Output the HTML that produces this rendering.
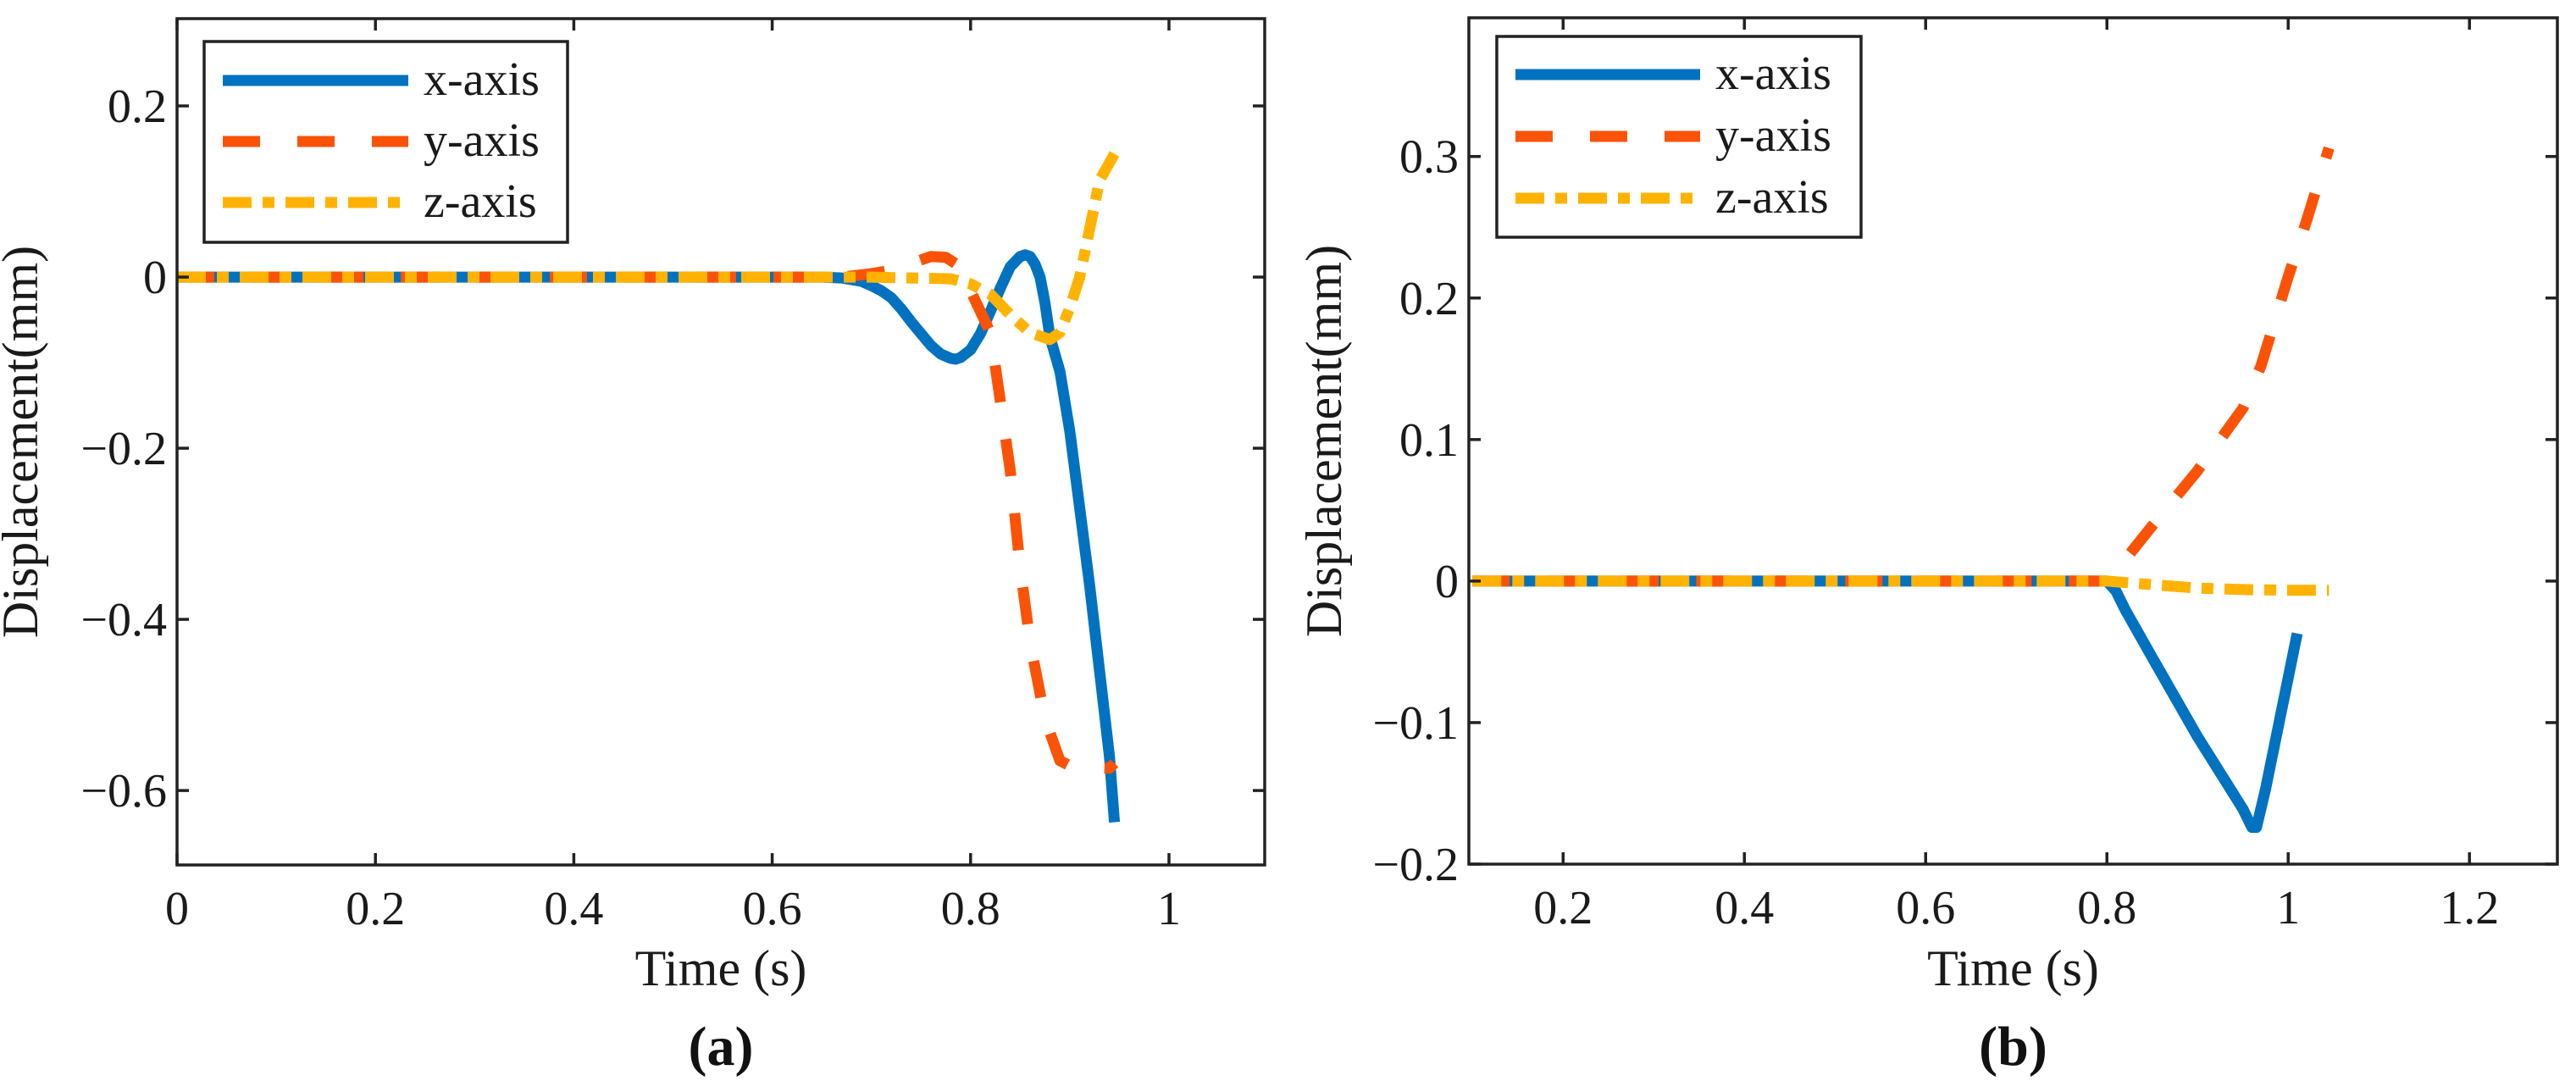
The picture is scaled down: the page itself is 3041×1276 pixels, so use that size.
<!DOCTYPE html>
<html><head><meta charset="utf-8"><style>
html,body{margin:0;padding:0;background:#fff;}
svg{display:block;font-family:"Liberation Serif",serif;}
text{font-family:"Liberation Serif",serif;}
</style></head><body>
<svg id="fig" width="3041" height="1276" viewBox="0 0 3041 1276" xmlns="http://www.w3.org/2000/svg"></svg>
<script>
// ---- Panel (a) data ----
const aX_t = [0,0.65,0.67,0.69,0.70,0.71,0.72,0.73,0.74,0.75,0.76,0.77,0.78,0.785,0.79,0.80,0.81,0.82,0.83,0.84,0.85,0.855,0.86,0.865,0.87,0.875,0.88,0.89,0.90,0.92,0.94,0.945];
const aX_v = [0,0,-0.001,-0.005,-0.01,-0.016,-0.024,-0.037,-0.052,-0.066,-0.08,-0.09,-0.095,-0.096,-0.094,-0.085,-0.066,-0.04,-0.013,0.012,0.024,0.026,0.024,0.015,0,-0.03,-0.07,-0.11,-0.18,-0.36,-0.56,-0.637];
const aY_t = [0,0.67,0.70,0.72,0.74,0.76,0.775,0.79,0.80,0.82,0.83,0.84,0.85,0.86,0.875,0.89,0.90,0.92,0.94,0.945];
const aY_v = [0,0,0.004,0.008,0.016,0.024,0.023,0.012,-0.016,-0.065,-0.145,-0.226,-0.339,-0.427,-0.516,-0.565,-0.571,-0.573,-0.574,-0.568];
const aZ_t = [0,0.70,0.74,0.78,0.80,0.82,0.84,0.86,0.88,0.89,0.90,0.91,0.92,0.93,0.945];
const aZ_v = [0,0,-0.001,-0.002,-0.008,-0.02,-0.044,-0.065,-0.073,-0.065,-0.036,0,0.056,0.113,0.144];
const aXTicks = [0,0.2,0.4,0.6,0.8,1];
const aXTickLabels = ["0","0.2","0.4","0.6","0.8","1"];
const aYTicks = [-0.6,-0.4,-0.2,0,0.2];
const aYTickLabels = ["\u22120.6","\u22120.4","\u22120.2","0","0.2"];
// ---- Panel (b) data ----
const bX_t = [0.1,0.8,0.81,0.82,0.85,0.90,0.95,0.96,0.965,0.975,1.01];
const bX_v = [0,0,-0.007,-0.02,-0.054,-0.11,-0.161,-0.174,-0.174,-0.147,-0.037];
const bY_t = [0.1,0.8,0.82,0.85,0.90,0.95,0.97,1.0,1.02,1.045];
const bY_v = [0,0,0.015,0.039,0.078,0.122,0.152,0.215,0.254,0.306];
const bZ_t = [0.1,0.8,0.85,0.90,0.95,1.0,1.045];
const bZ_v = [0,0,-0.0025,-0.005,-0.006,-0.0065,-0.0065];
const bXTicks = [0.2,0.4,0.6,0.8,1,1.2];
const bXTickLabels = ["0.2","0.4","0.6","0.8","1","1.2"];
const bYTicks = [-0.2,-0.1,0,0.1,0.2,0.3];
const bYTickLabels = ["\u22120.2","\u22120.1","0","0.1","0.2","0.3"];
const seriesNames = ["x-axis","y-axis","z-axis"];

const NS="http://www.w3.org/2000/svg";
const svg=document.getElementById('fig');
function mk(tag,attrs,parent){const e=document.createElementNS(NS,tag);for(const k in attrs)e.setAttribute(k,attrs[k]);(parent||svg).appendChild(e);return e;}
const COLORS=["#0072C0","#FA5307","#FFB300"];
const DASH=["none","44 44","34 13 14 13"];
const FF='"Liberation Serif", serif';

function panel(id,box,xlim,ylim,series,xt,xtl,yt,ytl,leg,ylabX,caption){
  const g=mk('g',{});
  
  
  const sx=v=>box.l+(v-xlim[0])/(xlim[1]-xlim[0])*(box.r-box.l);
  const sy=v=>box.b-(v-ylim[0])/(ylim[1]-ylim[0])*(box.b-box.t);
  const clipId='clip'+id;
  const cp=mk('clipPath',{id:clipId},g);mk('rect',{x:box.l,y:box.t,width:box.r-box.l,height:box.b-box.t},cp);
  const lines=mk('g',{'clip-path':'url(#'+clipId+')'},g);
  series.forEach((s,i)=>{
    const p=mk('polyline',{points:s.t.map((t,j)=>sx(t).toFixed(1)+','+sy(s.v[j]).toFixed(1)).join(' '),fill:'none',stroke:COLORS[i],'stroke-width':13,'stroke-dasharray':DASH[i],'stroke-linejoin':'round'},lines);
    
    
  });
  const ax=mk('rect',{x:box.l,y:box.t,width:box.r-box.l,height:box.b-box.t,fill:'none',stroke:'#222','stroke-width':3.5},g);
  
  
  xt.forEach((v,i)=>{
    const x=sx(v);
    mk('line',{x1:x,y1:box.b,x2:x,y2:box.b-14,stroke:'#222','stroke-width':3.5},g);
    mk('line',{x1:x,y1:box.t,x2:x,y2:box.t+14,stroke:'#222','stroke-width':3.5},g);
    const t=mk('text',{x:x,y:box.b+70,'font-size':56,'font-family':FF,'text-anchor':'middle',fill:'#1a1a1a'},g);
    t.textContent=xtl[i];
    
    
  });
  yt.forEach((v,i)=>{
    const y=sy(v);
    mk('line',{x1:box.l,y1:y,x2:box.l+14,y2:y,stroke:'#222','stroke-width':3.5},g);
    mk('line',{x1:box.r,y1:y,x2:box.r-14,y2:y,stroke:'#222','stroke-width':3.5},g);
    const t=mk('text',{x:box.l-12,y:y+19,'font-size':56,'font-family':FF,'text-anchor':'end',fill:'#1a1a1a'},g);
    t.textContent=ytl[i];
    
    
  });
  const xl=mk('text',{x:(box.l+box.r)/2,y:1163,'font-size':60,'font-family':FF,'text-anchor':'middle',fill:'#1a1a1a'},g);
  xl.textContent='Time (s)';
  
  
  const yl=mk('text',{x:0,y:0,'font-size':60,'font-family':FF,'text-anchor':'middle',fill:'#1a1a1a',transform:'translate('+ylabX+','+(box.t+box.b)/2+') rotate(-90)'},g);
  yl.textContent='Displacement(mm)';
  
  
  const cap=mk('text',{x:(box.l+box.r)/2,y:1257,'font-size':66,'font-family':FF,'font-weight':'bold','text-anchor':'middle',fill:'#111'},g);
  cap.textContent=caption;
  
  
  const lg=mk('g',{},g);
  
  
  mk('rect',{x:leg.l,y:leg.t,width:leg.r-leg.l,height:leg.b-leg.t,fill:'#fff',stroke:'#222','stroke-width':3.5},lg);
  seriesNames.forEach((n,i)=>{
    const y=leg.y0+i*leg.dy;
    const e=mk('g',{},lg);
    
    
    mk('line',{x1:leg.x1,y1:y,x2:leg.x2,y2:y,stroke:COLORS[i],'stroke-width':13,'stroke-dasharray':DASH[i]},e);
    const t=mk('text',{x:leg.tx,y:y+17,'font-size':56,'font-family':FF,fill:'#1a1a1a'},e);
    t.textContent=n;
  });
}
panel('a',{l:209,r:1493,t:22,b:1021},[0,1.0965],[-0.687,0.302],
  [{t:aX_t,v:aX_v},{t:aY_t,v:aY_v},{t:aZ_t,v:aZ_v}],
  aXTicks,aXTickLabels,aYTicks,aYTickLabels,
  {l:241,t:49,r:670,b:286,x1:263,x2:482,tx:500,y0:95,dy:72},44,'(a)');
panel('b',{l:1734,r:3019,t:21,b:1020},[0.096,1.297],[-0.2,0.398],
  [{t:bX_t,v:bX_v},{t:bY_t,v:bY_v},{t:bZ_t,v:bZ_v}],
  bXTicks,bXTickLabels,bYTicks,bYTickLabels,
  {l:1767,t:43,r:2197,b:280,x1:1789,x2:2007,tx:2025,y0:88,dy:73},1583,'(b)');
</script>
</body></html>
